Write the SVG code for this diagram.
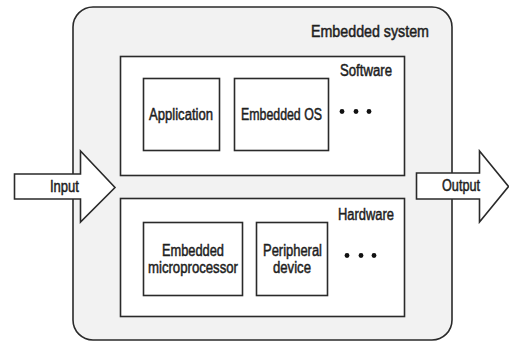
<svg xmlns="http://www.w3.org/2000/svg" width="509" height="343" viewBox="0 0 509 343">
<style>
.box{fill:#fff;stroke:#2a2a2a;stroke-width:1.6}
.arrow{fill:#fff;stroke:#2a2a2a;stroke-width:1.6;stroke-linejoin:miter}
text{font-family:"Liberation Sans",Arial,sans-serif;font-size:16px;fill:#1e1e1e;stroke:#1e1e1e;stroke-width:0.5}
.dot{fill:#111}
</style>
<rect width="509" height="343" fill="#fff"/>
<g id="embedded-system">
<rect x="73" y="7" width="379" height="333" rx="20" ry="20" fill="#f2f2f2" stroke="#2a2a2a" stroke-width="1.6"/>
<text x="429" y="36.5" text-anchor="end" textLength="118" lengthAdjust="spacingAndGlyphs">Embedded system</text>
</g>
<g id="software">
<rect class="box" x="120.5" y="56.5" width="284" height="119"/>
<text x="392" y="75.5" text-anchor="end" textLength="52" lengthAdjust="spacingAndGlyphs">Software</text>
</g>
<g id="application">
<rect class="box" x="143.5" y="78.5" width="76" height="72"/>
<text x="181" y="119.5" text-anchor="middle" textLength="64" lengthAdjust="spacingAndGlyphs">Application</text>
</g>
<g id="embedded-os">
<rect class="box" x="234.5" y="78.5" width="94" height="72"/>
<text x="281.5" y="119.5" text-anchor="middle" textLength="81" lengthAdjust="spacingAndGlyphs">Embedded OS</text>
</g>
<g id="software-more">
<circle class="dot" cx="342" cy="111.5" r="2.4"/>
<circle class="dot" cx="356" cy="111.5" r="2.4"/>
<circle class="dot" cx="369" cy="111.5" r="2.4"/>
</g>
<g id="hardware">
<rect class="box" x="120.5" y="198.5" width="284" height="118"/>
<text x="394" y="220" text-anchor="end" textLength="56" lengthAdjust="spacingAndGlyphs">Hardware</text>
</g>
<g id="microprocessor">
<rect class="box" x="143.5" y="222.5" width="99" height="73"/>
<text x="193" y="255.5" text-anchor="middle" textLength="62" lengthAdjust="spacingAndGlyphs">Embedded</text>
<text x="193" y="272.5" text-anchor="middle" textLength="90" lengthAdjust="spacingAndGlyphs">microprocessor</text>
</g>
<g id="peripheral">
<rect class="box" x="256.5" y="222.5" width="71" height="73"/>
<text x="292.5" y="255.5" text-anchor="middle" textLength="59" lengthAdjust="spacingAndGlyphs">Peripheral</text>
<text x="292" y="272.5" text-anchor="middle" textLength="38" lengthAdjust="spacingAndGlyphs">device</text>
</g>
<g id="hardware-more">
<circle class="dot" cx="347" cy="255.5" r="2.4"/>
<circle class="dot" cx="361" cy="255.5" r="2.4"/>
<circle class="dot" cx="374" cy="255.5" r="2.4"/>
</g>
<g id="connectors">
<g id="input">
<polygon class="arrow" points="14.5,174 80.5,174 80.5,151 115,187.5 80.5,222 80.5,199 14.5,199"/>
<text x="64.5" y="192" text-anchor="middle" textLength="29" lengthAdjust="spacingAndGlyphs">Input</text>
</g>
<g id="output">
<polygon class="arrow" points="416.5,173 479.5,173 479.5,151 508.5,186.5 479.5,222 479.5,199 416.5,199"/>
<text x="461" y="190.5" text-anchor="middle" textLength="38" lengthAdjust="spacingAndGlyphs">Output</text>
</g>
</g>
</svg>
